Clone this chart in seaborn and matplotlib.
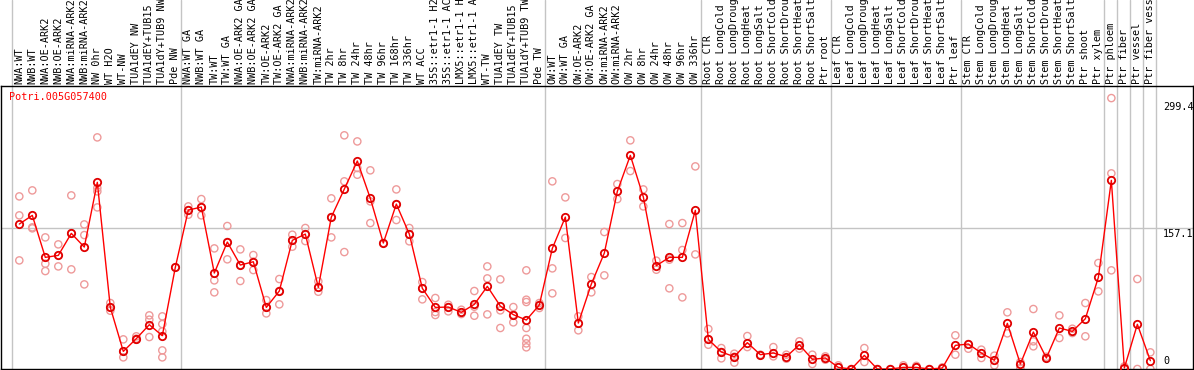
import numpy as np
import pandas as pd
import seaborn as sns
import matplotlib.pyplot as plt
from matplotlib import transforms

gene = "Potri.005G057400"

labels = [
    "NWA:WT", "NWB:WT", "NWA:OE-ARK2", "NWB:OE-ARK2", "NWA:miRNA-ARK2", "NWB:miRNA-ARK2",
    "NW 0hr", "WT H2O", "WT-NW", "TUA1dEY NW", "TUA1dEY+TUB15 NW", "TUA1dY+TUB9 NW", "Pde NW",
    "NWA:WT GA", "NWB:WT GA", "TW:WT", "TW:WT GA", "NWA:OE-ARK2 GA", "NWB:OE-ARK2 GA",
    "TW:OE-ARK2", "TW:OE-ARK2 GA", "NWA:miRNA-ARK2 GA", "NWB:miRNA-ARK2 GA", "TW:miRNA-ARK2",
    "TW 2hr", "TW 8hr", "TW 24hr", "TW 48hr", "TW 96hr", "TW 168hr", "TW 336hr", "WT ACC",
    "35S::etr1-1 H2O", "35S::etr1-1 ACC", "LMX5::etr1-1 H2O", "LMX5::etr1-1 ACC",
    "WT-TW", "TUA1dEY TW", "TUA1dEY+TUB15 TW", "TUA1dY+TUB9 TW", "Pde TW",
    "OW:WT", "OW:WT GA", "OW:OE-ARK2", "OW:OE-ARK2 GA", "OW:miRNA-ARK2", "OW:miRNA-ARK2 GA",
    "OW 2hr", "OW 8hr", "OW 24hr", "OW 48hr", "OW 96hr", "OW 336hr",
    "Root CTR", "Root LongCold", "Root LongDrought", "Root LongHeat", "Root LongSalt",
    "Root ShortCold", "Root ShortDrought", "Root ShortHeat", "Root ShortSalt", "Ptr root",
    "Leaf CTR", "Leaf LongCold", "Leaf LongDrought", "Leaf LongHeat", "Leaf LongSalt",
    "Leaf ShortCold", "Leaf ShortDrought", "Leaf ShortHeat", "Leaf ShortSalt", "Ptr leaf",
    "Stem CTR", "Stem LongCold", "Stem LongDrought", "Stem LongHeat", "Stem LongSalt",
    "Stem ShortCold", "Stem ShortDrought", "Stem ShortHeat", "Stem ShortSalt", "Ptr shoot",
    "Ptr xylem", "Ptr phloem", "Ptr fiber", "Ptr vessel", "Ptr fiber vessel",
]

# number of samples in each block separated by grey lines
group_sizes = [13, 28, 12, 10, 10, 11, 1, 1, 1, 1]

means = [
    161.9, 171.6, 124.7, 126.9, 151.5, 136.2, 208.5, 68.8, 19.7, 33.9, 49.5, 37.2, 113.5,
    177.5, 180.9, 107.2, 141.8, 116.1, 119.8, 68.8, 87.1, 143.7, 150.7, 91.2,
    169.7, 201.0, 232.3, 190.6, 140.7, 184.2, 150.7, 90.1, 68.8, 69.2, 63.3, 72.2,
    92.3, 70.3, 60.7, 54.7, 71.5,
    134.7, 169.7, 51.3, 94.9, 129.5, 198.4, 238.6, 192.1, 115.4, 124.7, 124.7, 177.2,
    33.1, 19.0, 13.7, 29.4, 16.0, 17.9, 13.7, 27.1, 10.8, 12.3,
    1.8, 0.0, 15.2, 0.0, 0.0, 1.8, 1.8, 0.0, 1.1, 26.4,
    27.9, 17.9, 9.7, 51.0, 5.6, 41.3, 12.3, 45.8, 42.0, 56.2, 102.3,
    210.7, 1.1, 49.9, 9.3,
]

reps = [
    [192.8, 171.6, 121.3], [199.5, 157.1, 158.2], [147.0, 117.6, 109.4], [139.2, 126.9, 114.6],
    [193.9, 151.5, 111.3], [161.5, 149.6, 94.5], [258.7, 202.1, 198.4, 180.5], [73.7, 68.8, 65.1],
    [33.1, 19.7, 13.0], [36.5, 33.9, 32.7], [59.9, 55.1, 35.7], [58.8, 50.2, 42.0, 20.8, 13.0],
    [113.5],
    [181.6, 177.5, 172.3], [189.8, 180.9, 171.6], [134.7, 99.0, 85.6], [159.7, 141.8, 122.5],
    [133.6, 116.1, 98.3], [127.3, 119.8, 110.5], [77.0, 68.8, 62.1], [100.5, 87.1, 72.2],
    [150.0, 143.7, 136.6], [157.5, 150.7, 142.9], [97.9, 91.2, 86.3], [190.6, 169.7, 147.0],
    [261.0, 209.6, 130.6], [254.2, 224.5, 217.0], [221.9, 187.2, 163.0], [140.7],
    [200.6, 184.2, 166.4], [157.5, 150.7, 142.6], [97.1, 90.1, 77.8], [79.3, 63.6, 60.3],
    [71.8, 69.2, 64.4], [66.2, 63.3, 61.4], [87.1, 69.6, 59.5], [114.6, 101.2, 61.0],
    [100.1, 65.5, 45.8], [69.2, 60.7, 52.1], [110.2, 77.4, 74.8, 45.8, 33.8, 28.6, 24.2],
    [73.7, 71.5, 68.1],
    [209.6, 112.4, 84.5], [191.7, 146.3], [58.8, 43.2], [102.7, 85.6], [153.0, 104.6],
    [206.6, 189.8], [255.4, 221.1], [200.6, 181.6], [121.0, 110.9], [161.9, 122.1, 90.1],
    [163.0, 132.9, 80.0], [226.3, 128.0],
    [44.7, 33.1, 27.1], [23.4, 19.0, 11.9], [17.1, 13.7, 7.1], [36.8, 24.5], [16.0],
    [24.5, 14.1], [16.0, 11.5], [30.9, 22.7], [16.0, 5.6], [14.1, 10.4],
    [4.1, 1.8], [0.0], [23.4, 7.8], [0.0], [0.0], [4.1, 1.8], [3.5, 1.8], [0.0], [1.8, 1.1],
    [37.6, 16.0],
    [27.9, 22.7], [21.6, 12.3], [14.9, 4.1], [63.3, 39.8], [7.8, 1.1], [67.0, 30.9, 25.3],
    [13.7, 12.3], [59.9, 34.6], [45.0, 40.2], [73.7, 36.5], [118.4, 86.7],
    [302.6, 218.5, 110.2], [2.9, 0.0], [100.5, 0.0], [18.6, 0.0],
]

y_marks = [299.4, 157.1, 0]

rows = [(i, v) for i, r in enumerate(reps) for v in r]
df_reps = pd.DataFrame(rows, columns=["sample", "value"])
df_mean = pd.DataFrame({"sample": np.arange(len(means)), "value": means})

sns.set_theme(style="white")
plt.rcParams["font.family"] = ["DejaVu Sans Mono"]

W, H = 1194, 370
fig = plt.figure(figsize=(W / 100, H / 100), dpi=100)
# plot box: x 1..1193 px, y 86..369 px (from top)
ax = fig.add_axes([1 / W, 1 / H, 1192 / W, 283 / H])

sns.scatterplot(data=df_reps, x="sample", y="value", ax=ax, marker="o", s=27,
                facecolor="none", edgecolor="#ee9a9a", linewidth=1.0, zorder=2, legend=False)
sns.lineplot(data=df_mean, x="sample", y="value", ax=ax, color="red", lw=1.0,
             marker="o", markersize=5.3, markerfacecolor="none", markeredgecolor="#e00000",
             markeredgewidth=1.3, zorder=3)

ax.set_xlim(-1.408, 90.28)
ax.set_ylim(0, 316.1)

# grey separators between sample blocks, running up through the label strip
bounds = np.concatenate([[0], np.cumsum(group_sizes)]) - 0.6
for b in bounds:
    ax.axvline(b, ymin=0, ymax=369 / 283, color="#c4c4c4", lw=1.0, clip_on=False, zorder=1)
ax.axhline(157.1, color="#c4c4c4", lw=1.0, zorder=1)

ax.xaxis.tick_top()
ax.set_xticks(np.arange(len(labels)))
ax.set_xticklabels(labels, rotation=90, fontsize=7.3)
ax.tick_params(axis="x", length=0, pad=1.5, colors="black")
ax.set_yticks([])
ax.set_xlabel("")
ax.set_ylabel("")

for s in ax.spines.values():
    s.set_color("black")
    s.set_linewidth(1.0)

trans = transforms.blended_transform_factory(ax.transAxes, ax.transData)
for v in y_marks:
    va = "bottom" if v == 0 else "top"
    dy = 3 if v == 0 else -1
    ax.annotate(f"{v:g}", xy=(0.9748, v), xycoords=trans, xytext=(0, dy),
                textcoords="offset pixels", ha="left", va=va, fontsize=7.3, color="black")

ax.text(0.007, 0.979, gene, transform=ax.transAxes, ha="left", va="top",
        fontsize=7.3, color="red")

fig.savefig("out.png", dpi=100)
